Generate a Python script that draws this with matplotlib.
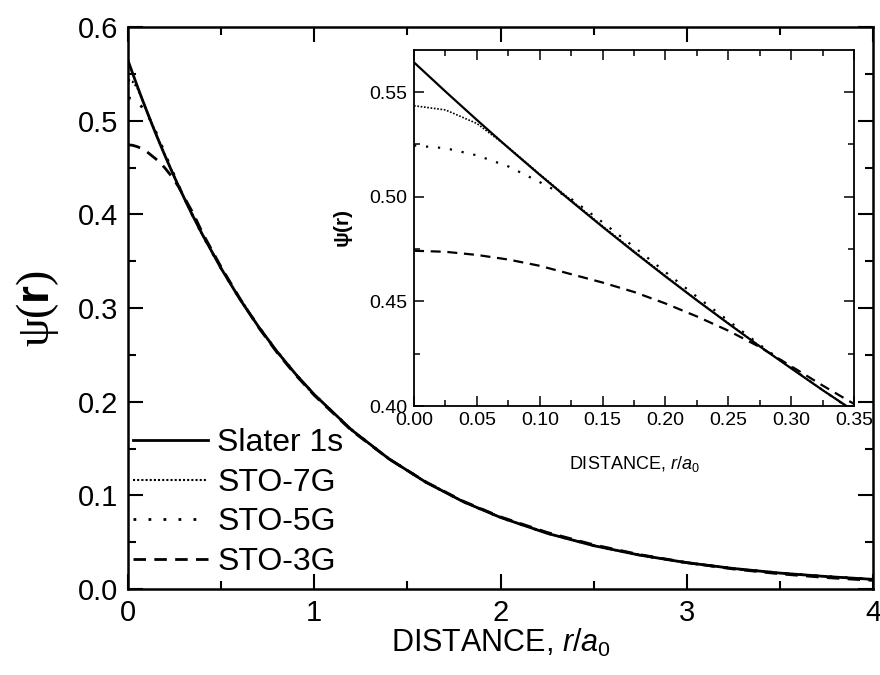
import matplotlib
matplotlib.use('Agg')
from matplotlib import pyplot as plt

plt.rcParams['font.family'] = ['Liberation Sans', 'DejaVu Sans']
plt.rcParams['mathtext.fontset'] = 'custom'
plt.rcParams['mathtext.rm'] = 'Liberation Sans'
plt.rcParams['mathtext.it'] = 'Liberation Sans:italic'
plt.rcParams['mathtext.bf'] = 'Liberation Sans:bold'

# distance r/a0 (dense near the nucleus for the inset)
r = [0.0, 0.025, 0.05, 0.075, 0.1, 0.125, 0.15, 0.175, 0.2, 0.225, 0.25, 0.275,
     0.3, 0.325, 0.35, 0.4, 0.5, 0.6, 0.7, 0.8, 0.9, 1.0, 1.2, 1.4, 1.6, 1.8,
     2.0, 2.25, 2.5, 2.75, 3.0, 3.25, 3.5, 3.75, 4.0]

slater = [0.5642, 0.5503, 0.5367, 0.5234, 0.5105, 0.4979, 0.4856, 0.4736, 0.4619,
          0.4505, 0.4394, 0.4285, 0.4180, 0.4076, 0.3976, 0.3782, 0.3422, 0.3096,
          0.2802, 0.2535, 0.2294, 0.2076, 0.1699, 0.1391, 0.1139, 0.0932, 0.0764,
          0.0595, 0.0463, 0.0361, 0.0281, 0.0219, 0.0170, 0.0133, 0.0103]

sto7g = [0.5435, 0.5415, 0.5350, 0.5236, 0.5108, 0.4983, 0.4860, 0.4740, 0.4622,
         0.4507, 0.4396, 0.4286, 0.4180, 0.4076, 0.3975, 0.3781, 0.3423, 0.3097,
         0.2801, 0.2534, 0.2294, 0.2077, 0.1700, 0.1390, 0.1138, 0.0933, 0.0765,
         0.0596, 0.0462, 0.0360, 0.0281, 0.0220, 0.0171, 0.0133, 0.0102]

sto5g = [0.5245, 0.5232, 0.5198, 0.5145, 0.5070, 0.4990, 0.4878, 0.4760, 0.4640,
         0.4522, 0.4408, 0.4293, 0.4183, 0.4076, 0.3973, 0.3778, 0.3420, 0.3098,
         0.2804, 0.2536, 0.2293, 0.2074, 0.1700, 0.1392, 0.1140, 0.0932, 0.0763,
         0.0596, 0.0464, 0.0361, 0.0280, 0.0218, 0.0170, 0.0134, 0.0104]

sto3g = [0.4742, 0.4737, 0.4722, 0.4700, 0.4670, 0.4630, 0.4590, 0.4545, 0.4490,
         0.4428, 0.4360, 0.4282, 0.4190, 0.4098, 0.4010, 0.3800, 0.3436, 0.3103,
         0.2795, 0.2525, 0.2285, 0.2068, 0.1692, 0.1390, 0.1142, 0.0937, 0.0770,
         0.0604, 0.0472, 0.0366, 0.0282, 0.0214, 0.0162, 0.0122, 0.0092]

series = [
    ('Slater 1s', slater, dict(linestyle='-', linewidth=2.0)),
    ('STO-7G', sto7g, dict(linestyle=(0, (1, 1)), linewidth=1.5)),
    ('STO-5G', sto5g, dict(linestyle=(0, (1, 4.4)), linewidth=2.0)),
    ('STO-3G', sto3g, dict(linestyle=(0, (4.5, 3)), linewidth=2.0)),
]

fig = plt.figure(figsize=(8.8, 6.75), dpi=100)
ax = fig.add_axes([0.1455, 0.1274, 0.8465, 0.8326])

for name, vals, style in series:
    ax.plot(r, vals, color='black', label=name, **style)

ax.set_xlim(0, 4)
ax.set_ylim(0, 0.6)
ax.set_xticks([0, 1, 2, 3, 4])
ax.set_xticks([0.5, 1.5, 2.5, 3.5], minor=True)
ax.set_yticks([0.0, 0.1, 0.2, 0.3, 0.4, 0.5, 0.6])
ax.set_yticks([0.05, 0.15, 0.25, 0.35, 0.45, 0.55], minor=True)
ax.set_yticklabels(['0.0', '0.1', '0.2', '0.3', '0.4', '0.5', '0.6'])
ax.tick_params(which='both', direction='in', top=True, right=True, width=1.5,
               labelsize=21, pad=7)
ax.tick_params(which='major', length=11)
ax.tick_params(which='minor', length=6)
for sp in ax.spines.values():
    sp.set_linewidth(1.8)

ax.set_xlabel('DISTANCE, $r$/$a_0$', fontsize=22, labelpad=0)
ax.set_ylabel('ψ($\\mathbf{r}$)', fontsize=33, family=['Liberation Serif', 'DejaVu Serif'],
              labelpad=12)

ax.legend(loc='upper left', bbox_to_anchor=(0.0067, 0.286), frameon=False,
          fontsize=23, handlelength=2.35, handletextpad=0.28, labelspacing=0.3,
          borderpad=0, borderaxespad=0)

# inset
ins = fig.add_axes([0.4705, 0.3985, 0.5, 0.527])
for name, vals, style in series:
    st = dict(style)
    st['linewidth'] = st['linewidth'] * 0.8
    ins.plot(r, vals, color='black', **st)

ins.set_xlim(0, 0.35)
ins.set_ylim(0.40, 0.57)
ins.set_xticks([0.0, 0.05, 0.1, 0.15, 0.2, 0.25, 0.3, 0.35])
ins.set_xticklabels(['0.00', '0.05', '0.10', '0.15', '0.20', '0.25', '0.30', '0.35'])
ins.set_xticks([0.025, 0.075, 0.125, 0.175, 0.225, 0.275, 0.325], minor=True)
ins.set_yticks([0.40, 0.45, 0.50, 0.55])
ins.set_yticklabels(['0.40', '0.45', '0.50', '0.55'])
ins.set_yticks([0.425, 0.475, 0.525], minor=True)
ins.tick_params(which='both', direction='in', top=True, right=True, width=1.1,
                labelsize=14)
ins.tick_params(axis='x', pad=4.5)
ins.tick_params(axis='y', pad=5)
ins.tick_params(which='major', length=7)
ins.tick_params(which='minor', length=4)
for sp in ins.spines.values():
    sp.set_linewidth(1.3)

ins.set_xlabel('DISTANCE, $r$/$a_0$', fontsize=13, labelpad=18)
ins.set_ylabel('ψ($\\mathbf{r}$)', fontsize=15, fontweight='bold', labelpad=10)

fig.savefig('out.png', dpi=100)
